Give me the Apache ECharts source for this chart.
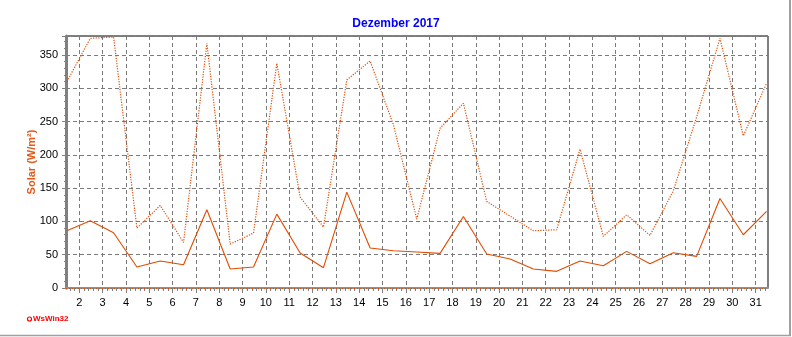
<!DOCTYPE html>
<html>
<head>
<meta charset="utf-8">
<script src="https://cdn.jsdelivr.net/npm/echarts@6/dist/echarts.min.js"></script>
<style>
  html, body { margin: 0; padding: 0; background: #fff; }
  #chart { width: 792px; height: 337px; }
</style>
</head>
<body>
<div id="chart"></div>
<script>
// Day of month (December 2017)
const days = [1, 2, 3, 4, 5, 6, 7, 8, 9, 10, 11, 12, 13, 14, 15, 16,
  17, 18, 19, 20, 21, 22, 23, 24, 25, 26, 27, 28, 29, 30, 31];

// Daily mean solar radiation, W/m²
const solarMean = [86, 101, 83, 31.5, 40.5, 35, 117.5, 28.5, 31.5, 111, 52.5,
  30.5, 144, 60, 56, 54, 52, 107.5, 51, 43.5, 28.5, 25, 40.5, 33.5, 55, 36.5,
  53, 47.5, 134.5, 80, 115];

// Daily maximum solar radiation, W/m²
const solarMax = [310, 375, 377, 90, 124, 68.5, 367.5, 66, 82.5, 337.5, 136.5,
  91.5, 312.5, 341, 245, 103.5, 240, 277.5, 130, 108, 86, 87.5, 208.5, 77.5,
  110, 79, 146, 257, 375, 228.5, 307.5];

// Labelled day ticks on the x axis
const dayTicks = [2, 3, 4, 5, 6, 7, 8, 9, 10, 11, 12, 13, 14, 15, 16, 17,
  18, 19, 20, 21, 22, 23, 24, 25, 26, 27, 28, 29, 30, 31];

// Values are plotted around midday of each day
const midday = 0.47;
const xMin = 1.43, xMax = 31.53;

// Minor ticks every fifth of a day
const minorTicks = [];
for (let i = Math.ceil(xMin * 5); i <= Math.floor(xMax * 5); i++) {
  if (i % 5 !== 0) minorTicks.push(i / 5);
}

const lineColor = '#e24a00';
const font = 'Liberation Sans, Arial, sans-serif';

const chart = echarts.init(document.getElementById('chart'), null, { renderer: 'canvas' });

chart.setOption({
  backgroundColor: '#ffffff',
  animation: false,
  title: {
    text: 'Dezember 2017',
    left: 'center',
    top: 13,
    textStyle: { color: '#0000ff', fontSize: 12, fontWeight: 'bold', fontFamily: font }
  },
  grid: {
    left: 66, right: 24, top: 36, bottom: 49,
    show: true, borderColor: '#000000', borderWidth: 1, backgroundColor: 'transparent'
  },
  xAxis: [
    {
      type: 'value', min: xMin, max: xMax,
      axisLine: { show: true, lineStyle: { color: '#909090', width: 2 } },
      axisTick: { show: true, length: 5, customValues: dayTicks, lineStyle: { color: '#808080' } },
      axisLabel: {
        customValues: dayTicks, color: '#000', fontSize: 11, fontFamily: font, margin: 9,
        formatter: v => String(Math.round(v))
      },
      splitLine: { show: true, lineStyle: { color: '#7a7a7a', type: [4, 3], width: 1 } }
    },
    {
      type: 'value', min: xMin, max: xMax, position: 'bottom',
      axisLine: { show: false },
      axisTick: { show: true, length: 3, customValues: minorTicks, lineStyle: { color: '#808080' } },
      axisLabel: { show: false },
      splitLine: { show: false }
    }
  ],
  yAxis: {
    type: 'value', min: 0, max: 378.5, interval: 50,
    name: 'Solar (W/m²)', nameLocation: 'middle', nameGap: 29, nameRotate: 90,
    nameMoveOverlap: false,
    nameTextStyle: { color: '#e55a1a', fontSize: 11, fontWeight: 'bold', fontFamily: font },
    axisLine: { show: true, lineStyle: { color: '#808080', width: 3 } },
    axisTick: { show: true, length: 4, lineStyle: { color: '#808080' } },
    minorTick: { show: true, splitNumber: 5, length: 2, lineStyle: { color: '#808080' } },
    axisLabel: { color: '#000', fontSize: 11, fontFamily: font, margin: 8, showMaxLabel: false },
    splitLine: { show: true, lineStyle: { color: '#7a7a7a', type: [4, 3], width: 1 } }
  },
  series: [
    {
      name: 'Mittelwert',
      type: 'line',
      data: days.map((d, i) => [d + midday, solarMean[i]]),
      symbol: 'none',
      lineStyle: { color: lineColor, width: 1.1 },
      clip: true,
      markLine: {
        silent: true, symbol: 'none', label: { show: false },
        lineStyle: { color: lineColor, type: [1, 2], width: 1 },
        data: [{ yAxis: 0 }]
      }
    },
    {
      name: 'Maximum',
      type: 'line',
      data: days.map((d, i) => [d + midday, solarMax[i]]),
      symbol: 'none',
      lineStyle: { color: lineColor, width: 1.2, type: [1.2, 1.4] },
      clip: true
    }
  ],
  graphic: [
    { type: 'line', shape: { x1: 790, y1: 0, x2: 790, y2: 336 }, style: { stroke: '#a0a0a0', lineWidth: 2 } },
    { type: 'line', shape: { x1: 0, y1: 335.5, x2: 791, y2: 335.5 }, style: { stroke: '#a0a0a0', lineWidth: 1.5 } },
    { type: 'circle', shape: { cx: 29.5, cy: 319, r: 2 }, style: { fill: 'none', stroke: '#ff0000', lineWidth: 1.2 } },
    { type: 'text', left: 33, top: 315, style: { text: 'WsWin32', fill: '#ff0000', font: 'bold 8px ' + font } }
  ]
});
</script>
</body>
</html>
